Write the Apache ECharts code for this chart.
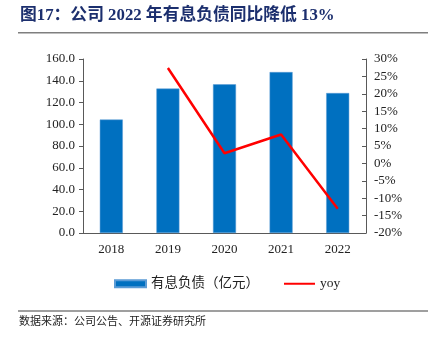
<!DOCTYPE html>
<html><head><meta charset="utf-8">
<script src="https://cdn.jsdelivr.net/npm/echarts@6/dist/echarts.min.js"></script>
<style>html,body{margin:0;padding:0;background:#fff}#c{width:428px;height:338px}</style>
</head><body><div id="c"></div>
<script>
const categories = ['2018','2019','2020','2021','2022'];
const debt = [104.3, 132.8, 136.7, 148.0, 128.7];
const yoy = [null, 27.4, 2.9, 8.3, -13.0];
const leftTicks = [0,20,40,60,80,100,120,140,160];
const rightTicks = [-20,-15,-10,-5,0,5,10,15,20,25,30];

const serif = 'Liberation Serif, "Times New Roman", serif';
const cjk = '"Liberation Serif", "Noto Sans CJK SC", serif';
const axisColor = '#595959';
const chart = echarts.init(document.getElementById('c'));
chart.setOption({
  animation: false,
  backgroundColor: '#fff',
  graphic: [
    {type:'text', left: 20, top: 7, style:{text:'图17：公司 2022 年有息负债同比降低 13%', font:'bold 16.8px "Liberation Serif", "Noto Sans CJK SC", serif', fill:'#1c2f6e'}},
    {type:'rect', shape:{x:18, y:32, width:410, height:1.5}, style:{fill:'#7f7f7f'}},
    {type:'rect', shape:{x:18, y:310.5, width:410, height:1}, style:{fill:'#404040'}},
    {type:'text', left: 19, top: 315, style:{text:'数据来源：公司公告、开源证券研究所', font:'11px "Noto Sans CJK SC", sans-serif', fill:'#222'}}
  ],
  legend: {
    top: 272, left: 109,
    itemGap: 24, itemWidth: 31, itemHeight: 7,
    textStyle: {fontFamily: cjk, fontSize: 13.5, color:'#222'},
    data: [{name:'有息负债（亿元）', icon:'rect'}, {name:'yoy', itemStyle:{opacity:0}}]
  },
  grid: {left: 83, right: 62, top: 59, bottom: 105},
  xAxis: {
    type: 'category', data: categories,
    axisLine: {lineStyle:{color: axisColor, width: 1}},
    axisTick: {inside: true, length: 5, lineStyle:{color: axisColor}},
    axisLabel: {fontFamily: serif, fontSize: 13, color:'#222', margin: 10}
  },
  yAxis: [
    {type:'value', min: leftTicks[0], max: leftTicks[leftTicks.length-1], interval: 20,
     axisLine:{show:true, lineStyle:{color: axisColor}},
     axisTick:{show:true, length: 4, lineStyle:{color: axisColor}},
     splitLine:{show:false},
     axisLabel:{fontFamily: serif, fontSize: 13, color:'#222', margin: 8, formatter: v => v.toFixed(1)}},
    {type:'value', min: rightTicks[0], max: rightTicks[rightTicks.length-1], interval: 5,
     axisLine:{show:true, lineStyle:{color: axisColor}},
     axisTick:{show:true, inside:true, length: 4, lineStyle:{color: axisColor}},
     splitLine:{show:false},
     axisLabel:{fontFamily: serif, fontSize: 13, color:'#222', margin: 8, formatter: v => v + '%'}}
  ],
  series: [
    {name:'有息负债（亿元）', type:'bar', data: debt, barWidth: 23, yAxisIndex: 0,
     itemStyle:{color:'#0070C0', borderColor:'#5b9bd5', borderWidth: 0.5}},
    {name:'yoy', type:'line', data: yoy, yAxisIndex: 1, symbol:'none',
     lineStyle:{color:'#ff0000', width: 2.5}, itemStyle:{color:'#ff0000'}}
  ]
});
</script></body></html>
